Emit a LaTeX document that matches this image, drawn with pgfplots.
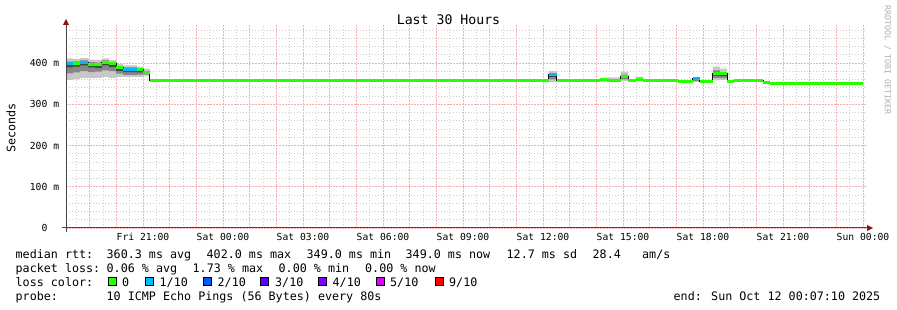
\documentclass[border=0pt]{standalone}
\usepackage{fontspec}
\usepackage{pgfplots}
\usepackage{pgfplotstable}
\usepgfplotslibrary{fillbetween}
\pgfplotsset{compat=1.18}
\setmainfont{DejaVu Sans}
\newfontfamily\mono{DejaVu Sans Mono}
\newcommand{\legfont}{\mono\fontsize{11.7bp}{13bp}\selectfont}
\newcommand{\tickfont}{\mono\fontsize{9.7bp}{11bp}\selectfont}
\newcommand{\titlefont}{\mono\fontsize{13.2bp}{15bp}\selectfont}
\definecolor{lc0}{HTML}{26FF00}
\definecolor{lc1}{HTML}{00B8FF}
\definecolor{lc2}{HTML}{0059FF}
\definecolor{lc3}{HTML}{5E00FF}
\definecolor{lc4}{HTML}{7E00FF}
\definecolor{lc5}{HTML}{DD00FF}
\definecolor{lc9}{HTML}{FF0000}
\definecolor{mgrid}{RGB}{248,175,175}
\definecolor{ngrid}{RGB}{205,205,205}
\definecolor{smokeA}{RGB}{200,200,200}
\definecolor{smokeB}{RGB}{135,135,135}
\definecolor{smokeC}{RGB}{70,70,70}
\definecolor{axiscol}{RGB}{70,70,70}
\definecolor{arrowcol}{RGB}{140,20,20}
\definecolor{credit}{RGB}{175,175,175}

% t = hours since Fri 18:00
\pgfplotstableread{
t      med    lo2   lo1   lo0   hi0   hi1   hi2
0.1125 397.6  359   375   389   399   403   411
0.375  399    360   377   391   400   404   410
0.64   401.6  363   380   394   403   406   412
0.94   397    363   378   389   398   402   408
1.2    396    364   379   388   397   401   407
1.46   402    366   382   394   403   406   411
1.72   397.6  364   380   390   399   402   407
1.99   388    366   374   381   389   392   397
2.25   385    366   371   378   386   389   394
2.77   383    366   372   377   384   386   391
3.0    377    369   372   374   378   381   386
3.26   358    358   358   358   358   358   358
5.74   356.5  356.5 356.5 356.5 356.5 356.5 356.5
18.22  371.6  353   360   366   372   375   380
18.52  356.5  356.5 356.5 356.5 356.5 356.5 356.5
20.13  360    355   357   359   360   362   364
20.4   357    354   355   356   358   361   365
20.92  368    356   360   363   369   372   378
21.19  358    354   356   357   358   359   361
21.48  361    356   358   359   362   364   367
21.75  356.5  356.5 356.5 356.5 356.5 356.5 356.5
23.06  354    354   354   354   354   354   354
23.62  362    354   356   360   362   362   363
23.88  354    354   354   354   354   354   354
24.37  375    359   364   369   376   382   391
24.63  374    359   363   368   375   378   386
24.9   356    354   355   355   356   358   359
25.16  356.5  356.5 356.5 356.5 356.5 356.5 356.5
26.25  353    353   353   353   353   353   353
26.51  349    349   349   349   349   349   349
30.0   349    349   349   349   349   349   349
}\smoke

\begin{document}
\begin{tikzpicture}
\begin{axis}[
  at={(66bp,82bp)}, anchor=south west,
  scale only axis, width=800bp, height=203bp,
  xmin=0.1125, xmax=30.1125, ymin=0, ymax=492,
  axis line style={draw=none}, major tick length=0pt, minor tick length=0pt,
  xtick={1,2,...,30},
  xticklabels={,,Fri 21:00,,,Sat 00:00,,,Sat 03:00,,,Sat 06:00,,,Sat 09:00,,,Sat 12:00,,,Sat 15:00,,,Sat 18:00,,,Sat 21:00,,,Sun 00:00},
  minor xtick={0.5,1.5,...,29.5},
  ytick={0,100,200,300,400},
  yticklabels={0\hphantom{mm},100 m,200 m,300 m,400 m},
  minor ytick={20,40,60,80,120,140,160,180,220,240,260,280,320,340,360,380,420,440,460,480},
  grid=both,
  major grid style={draw=mgrid, line width=0.8bp, dash pattern=on 1.5bp off 1.5bp},
  minor grid style={draw=ngrid, line width=0.7bp, dash pattern=on 1bp off 2bp},
  xticklabel style={font=\tickfont, anchor=base, yshift=-13bp, inner sep=0pt},
  yticklabel style={font=\tickfont, anchor=east, inner sep=0pt, xshift=-6.7bp},
  unbounded coords=jump,
]
\addplot[name path=hi2, draw=none, const plot, forget plot] table[x=t,y=hi2]{\smoke};
\addplot[name path=lo2, draw=none, const plot, forget plot] table[x=t,y=lo2]{\smoke};
\addplot[fill=smokeA, draw=none, forget plot] fill between[of=hi2 and lo2];
\addplot[name path=hi1, draw=none, const plot, forget plot] table[x=t,y=hi1]{\smoke};
\addplot[name path=lo1, draw=none, const plot, forget plot] table[x=t,y=lo1]{\smoke};
\addplot[fill=smokeB, draw=none, forget plot] fill between[of=hi1 and lo1];
\addplot[name path=hi0, draw=none, const plot, forget plot] table[x=t,y=hi0]{\smoke};
\addplot[name path=lo0, draw=none, const plot, forget plot] table[x=t,y=lo0]{\smoke};
\addplot[fill=smokeC, draw=none, forget plot] fill between[of=hi0 and lo0];
% median (black step line)
\addplot[black, line width=1bp, const plot, forget plot] table[x=t,y=med]{\smoke};
% median coloured by loss: 0
\addplot[lc0, line width=3bp, forget plot] coordinates {
 (0.375,399)(0.64,399) (0.64,nan)
 (0.94,397)(1.2,397) (1.2,nan)
 (1.2,396)(1.46,396) (1.46,nan)
 (1.46,402)(1.72,402) (1.72,nan)
 (1.72,397.6)(1.99,397.6) (1.99,nan)
 (1.99,388)(2.25,388) (2.25,nan)
 (2.77,383)(3.0,383) (3.0,nan)
 (3.0,377)(3.26,377) (3.26,nan)
 (3.26,358)(5.74,358) (5.74,nan)
 (5.74,356.5)(18.22,356.5) (18.22,nan)
 (18.52,356.5)(20.13,356.5) (20.13,nan)
 (20.13,360)(20.4,360) (20.4,nan)
 (20.4,357)(20.92,357) (20.92,nan)
 (20.92,368)(21.19,368) (21.19,nan)
 (21.19,358)(21.48,358) (21.48,nan)
 (21.48,361)(21.75,361) (21.75,nan)
 (21.75,356.5)(23.06,356.5) (23.06,nan)
 (23.06,354)(23.62,354) (23.62,nan)
 (23.88,354)(24.37,354) (24.37,nan)
 (24.37,375)(24.63,375) (24.63,nan)
 (24.63,374)(24.9,374) (24.9,nan)
 (24.9,356)(25.16,356) (25.16,nan)
 (25.16,356.5)(26.25,356.5) (26.25,nan)
 (26.25,353)(26.51,353) (26.51,nan)
 (26.51,349)(30.0,349)
};
% loss 1/10
\addplot[lc1, line width=3bp, forget plot] coordinates {
 (0.1125,397.6)(0.375,397.6) (0.375,nan)
 (0.64,401.6)(0.94,401.6) (0.94,nan)
 (2.25,385)(2.77,385) (2.77,nan)
 (18.22,371.6)(18.52,371.6) (18.52,nan)
 (23.62,362)(23.88,362)
};
\end{axis}
\begin{scope}[x=1bp,y=1bp]
% axes
\draw[axiscol, line width=1bp] (62,82) -- (868,82);
\draw[axiscol, line width=1bp] (66,78) -- (66,286);
\fill[arrowcol] (867,79) -- (873,82) -- (867,85) -- cycle;
\fill[arrowcol] (63,285) -- (66,291) -- (69,285) -- cycle;
% title and labels
\node[anchor=base, inner sep=0pt, font=\titlefont] at (448.5,286) {Last 30 Hours};
\node[rotate=90, inner sep=0pt, font=\legfont] at (11,182) {Seconds};
\node[rotate=-90, inner sep=0pt, font=\mono\fontsize{8.3bp}{9bp}\selectfont, text=credit] at (887.5,250) {RRDTOOL / TOBI OETIKER};
% legend line 1
\begin{scope}[every node/.style={anchor=base west, inner sep=0pt, font=\legfont}]
\node at (15.5,52) {median rtt:};
\node at (106.5,52) {360.3 ms avg};
\node at (206.5,52) {402.0 ms max};
\node at (306.5,52) {349.0 ms min};
\node at (405.5,52) {349.0 ms now};
\node at (506.5,52) {12.7 ms sd};
\node at (592.5,52) {28.4};
\node at (642,52) {am/s};
% line 2
\node at (15.5,38) {packet loss:};
\node at (106.5,38) {0.06 \% avg};
\node at (192.5,38) {1.73 \% max};
\node at (278.5,38) {0.00 \% min};
\node at (365,38) {0.00 \% now};
% line 3
\node at (15.5,24) {loss color:};
\node at (122,24) {0};
\node at (159.5,24) {1/10};
\node at (217.5,24) {2/10};
\node at (275,24) {3/10};
\node at (332.5,24) {4/10};
\node at (390,24) {5/10};
\node at (449,24) {9/10};
% line 4
\node at (15.5,10) {probe:};
\node at (106.5,10) {10 ICMP Echo Pings (56 Bytes) every 80s};
\node[anchor=base east] at (880.5,10) {end: Sun Oct 12 00:07:10 2025};
\end{scope}
\foreach \bx/\bc in {108.3/lc0,145.7/lc1,203.3/lc2,260.7/lc3,318.3/lc4,376/lc5,435/lc9}{
  \filldraw[fill=\bc, draw=black, line width=0.8bp] (\bx,25) rectangle ++(8,8);
}
\end{scope}
\pgfresetboundingbox
\useasboundingbox (0,0) rectangle (897bp,310bp);
\end{tikzpicture}
\end{document}
